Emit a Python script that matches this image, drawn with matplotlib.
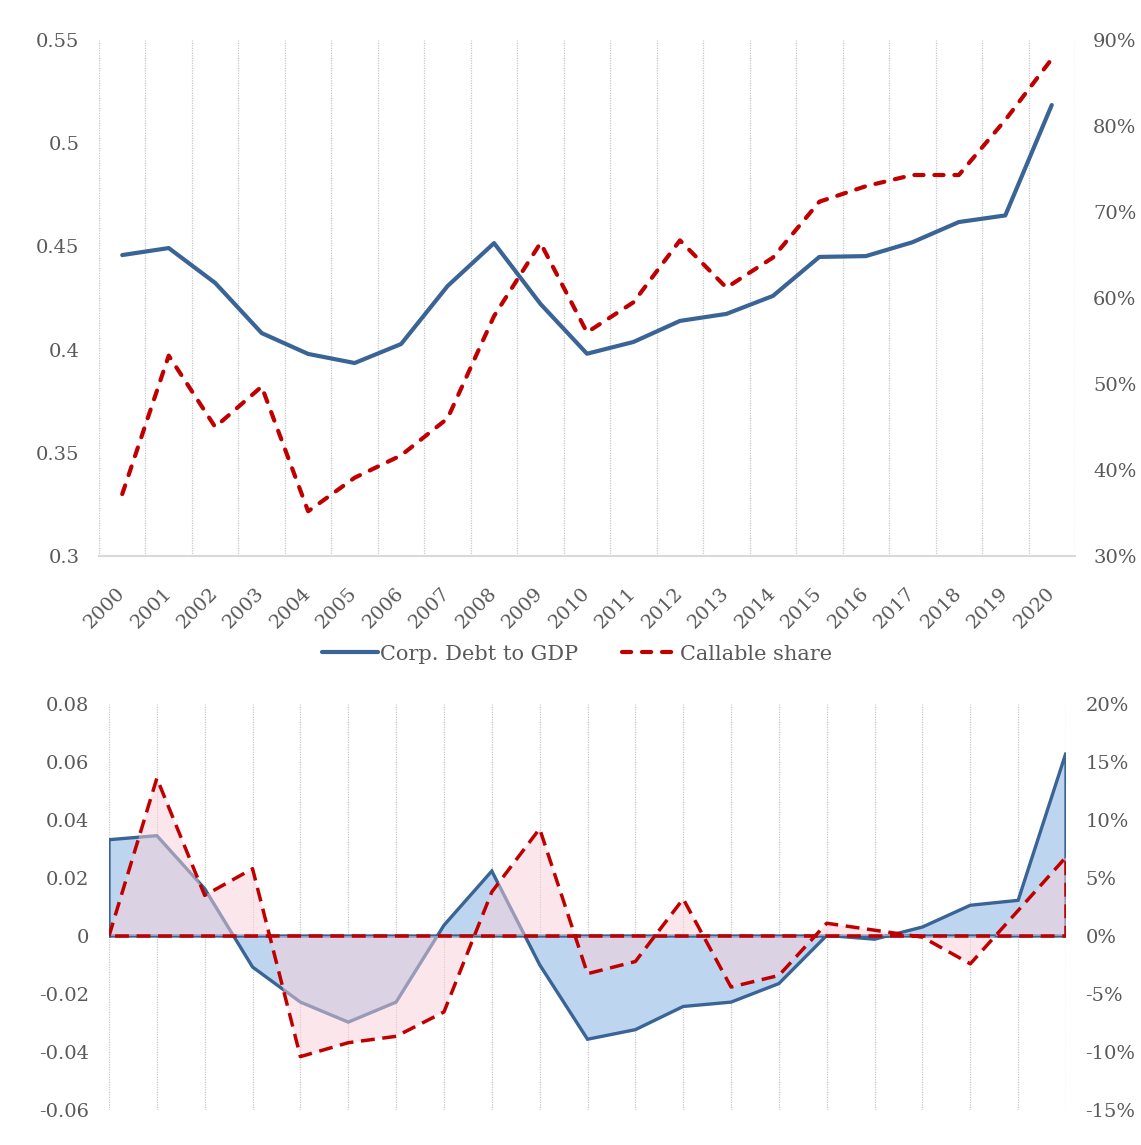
import matplotlib
matplotlib.use("Agg")
import matplotlib.pyplot as plt
from matplotlib.ticker import FuncFormatter
import numpy as np

plt.rcParams['font.family'] = ['DejaVu Serif']
plt.rcParams['axes.unicode_minus'] = False

years = list(range(2000, 2021))
debt_gdp = [0.4458, 0.4492, 0.4323, 0.4080, 0.3979, 0.3935, 0.4027, 0.4308, 0.4516, 0.4221,
            0.3980, 0.4037, 0.4139, 0.4173, 0.4260, 0.4449, 0.4453, 0.4520, 0.4618, 0.4650, 0.5185]
callable_share = [0.372, 0.533, 0.450, 0.497, 0.352, 0.391, 0.417, 0.460, 0.579, 0.664,
                  0.560, 0.595, 0.667, 0.612, 0.647, 0.712, 0.730, 0.743, 0.743, 0.807, 0.878]
debt_dev = [0.0332, 0.0346, 0.0163, -0.0107, -0.0228, -0.0297, -0.0228, 0.0037, 0.0224, -0.0099,
            -0.0356, -0.0323, -0.0243, -0.0228, -0.0164, 0.0002, -0.0011, 0.0031, 0.0106, 0.0123, 0.0632]
callable_dev = [0.0, 0.136, 0.035, 0.058, -0.104, -0.092, -0.0865, -0.0655, 0.038, 0.0925,
                -0.0325, -0.022, 0.032, -0.044, -0.034, 0.011, 0.005, -0.001, -0.024, 0.022, 0.068]
series_names = ["Corp. Debt to GDP", "Callable share"]

BLUE = "#3a6496"
RED = "#c00000"
LBLUE = "#bdd5ee"
PINK = "#f9d1d9"
GRID = "#c8c8c8"
TXT = "#595959"
FS = 14

W, H = 1141, 1145
fig = plt.figure(figsize=(W / 100, H / 100), dpi=100)

def px_axes(l, t, r, b):
    return fig.add_axes([l / W, 1 - b / H, (r - l) / W, (b - t) / H])

# ---------------- top chart ----------------
ax = px_axes(99, 40, 1075, 556)
ax2 = ax.twinx()
x = np.arange(len(years))
ax.set_xlim(-0.5, len(years) - 0.5)
ax.set_ylim(0.3, 0.55)
ax.set_yticks([0.3, 0.35, 0.4, 0.45, 0.5, 0.55])
ax.yaxis.set_major_formatter(FuncFormatter(lambda v, p: f"{v:g}"))
ax2.set_ylim(0.3, 0.9)
ax2.set_yticks(np.arange(0.3, 0.91, 0.1))
ax2.yaxis.set_major_formatter(FuncFormatter(lambda v, p: f"{v*100:.0f}%"))

ax.set_xticks(x)
ax.set_xticklabels([str(y) for y in years], rotation=45, ha='right', va='center',
                   rotation_mode='anchor')
ax.grid(False)
for xv in np.arange(-0.5, len(years), 1.0):
    ax.axvline(xv, color=GRID, lw=0.9, ls=(0, (1, 1)), zorder=0)

for a in (ax, ax2):
    for s in a.spines.values():
        s.set_visible(False)
ax.spines['bottom'].set_visible(True)
ax.spines['bottom'].set_color("#d9d9d9")
ax.spines['bottom'].set_linewidth(1.5)

ax.tick_params(axis='x', length=0, pad=25, labelsize=FS, labelcolor=TXT, which='both')
ax.tick_params(axis='y', length=0, pad=14, labelsize=FS, labelcolor=TXT)
ax2.tick_params(axis='y', length=0, pad=13, labelsize=FS, labelcolor=TXT)

l1, = ax.plot(x, debt_gdp, color=BLUE, lw=3.0, solid_capstyle='round',
              solid_joinstyle='round', label=series_names[0], zorder=3)
l2, = ax2.plot(x, callable_share, color=RED, lw=3.0, ls=(0, (2.2, 2.6)),
               dash_capstyle='round', label=series_names[1], zorder=3)

fig.legend(handles=[l1, l2], loc='center', bbox_to_anchor=(577 / W, 1 - 654 / H),
           ncol=2, frameon=False, fontsize=15, handlelength=2.7, handletextpad=0.1,
           columnspacing=2.1, labelcolor=TXT)

# ---------------- bottom chart ----------------
bx = px_axes(109, 704, 1066, 1110)
bx2 = bx.twinx()
n = len(years)
bx.set_xlim(0, n - 1)
bx.set_ylim(-0.06, 0.08)
bx.set_yticks([-0.06, -0.04, -0.02, 0, 0.02, 0.04, 0.06, 0.08])
bx.yaxis.set_major_formatter(FuncFormatter(lambda v, p: "0" if abs(v) < 1e-12 else f"{v:.2f}"))
bx2.set_ylim(-0.15, 0.20)
bx2.set_yticks([-0.15, -0.10, -0.05, 0, 0.05, 0.10, 0.15, 0.20])
bx2.yaxis.set_major_formatter(FuncFormatter(lambda v, p: f"{v*100:.0f}%"))
bx.set_xticks([])
for a in (bx, bx2):
    for s in a.spines.values():
        s.set_visible(False)
bx.tick_params(axis='y', length=0, pad=14, labelsize=FS, labelcolor=TXT)
bx2.tick_params(axis='y', length=0, pad=14, labelsize=FS, labelcolor=TXT)
for xv in x:
    bx.axvline(xv, color=GRID, lw=0.9, ls=(0, (1, 1)), zorder=0)

bx.fill_between(x, 0, debt_dev, facecolor=LBLUE, edgecolor='none', zorder=1)
ox = np.concatenate([[x[0]], x, [x[-1], x[0]]])
oy_b = np.concatenate([[0], debt_dev, [0, 0]])
bx.plot(ox, oy_b, color=BLUE, lw=2.4, solid_joinstyle='miter', zorder=2)

bx2.fill_between(x, 0, callable_dev, facecolor=PINK, alpha=0.5, edgecolor='none', zorder=1)
oy_r = np.concatenate([[0], callable_dev, [0, 0]])
bx2.plot(ox, oy_r, color=RED, lw=2.5, ls=(0, (4.0, 2.2)), dash_capstyle='butt', zorder=2)

fig.savefig("out.png", dpi=100)
